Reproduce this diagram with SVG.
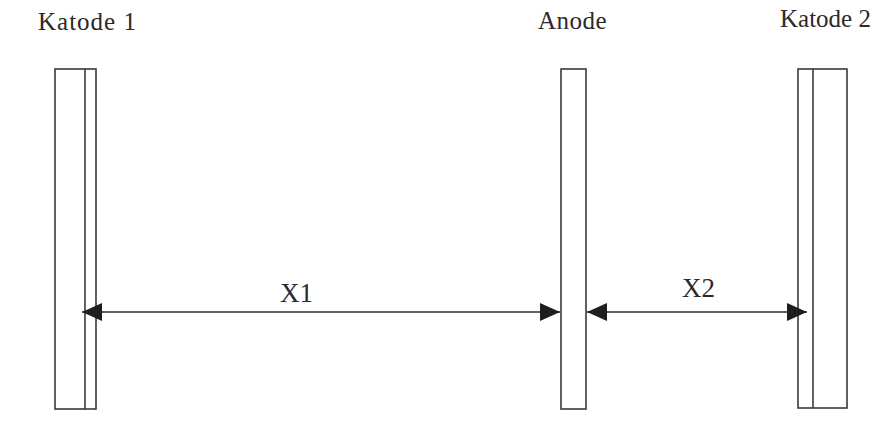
<svg xmlns="http://www.w3.org/2000/svg" width="879" height="421" viewBox="0 0 879 421">
<style>
.plate{fill:none;stroke:#3a3a3a;stroke-width:1.6}
.lbl{font-family:"Liberation Serif","Times New Roman",serif;font-size:25px;fill:#2a2a2a}
.xl{font-size:27px}
.dim{stroke:#2a2a2a;stroke-width:1.6;fill:none}
</style>
<defs>
<marker id="ah" markerWidth="20" markerHeight="18" refX="20" refY="9" orient="auto-start-reverse" markerUnits="userSpaceOnUse">
<path d="M0,0 L20,9 L0,18 Z" fill="#1e1e1e"/>
</marker>
</defs>
<rect width="879" height="421" fill="#ffffff"/>
<g id="katode1">
<rect class="plate" x="55" y="69" width="41" height="340"/>
<line class="plate" x1="85" y1="69" x2="85" y2="409"/>
<text class="lbl" x="38" y="30" letter-spacing="1">Katode 1</text>
</g>
<g id="anode">
<rect class="plate" x="561" y="69" width="25" height="340"/>
<text class="lbl" x="538" y="29" letter-spacing="0.5">Anode</text>
</g>
<g id="katode2">
<rect class="plate" x="798" y="69" width="49" height="339"/>
<line class="plate" x1="813" y1="69" x2="813" y2="408"/>
<text class="lbl" x="780" y="27">Katode 2</text>
</g>
<g id="connectors">
<line class="dim" x1="82" y1="312" x2="560" y2="312" marker-start="url(#ah)" marker-end="url(#ah)"/>
<line class="dim" x1="587" y1="312" x2="807" y2="312" marker-start="url(#ah)" marker-end="url(#ah)"/>
<text class="lbl xl" x="280" y="302">X1</text>
<text class="lbl xl" x="682" y="297">X2</text>
</g>
</svg>
